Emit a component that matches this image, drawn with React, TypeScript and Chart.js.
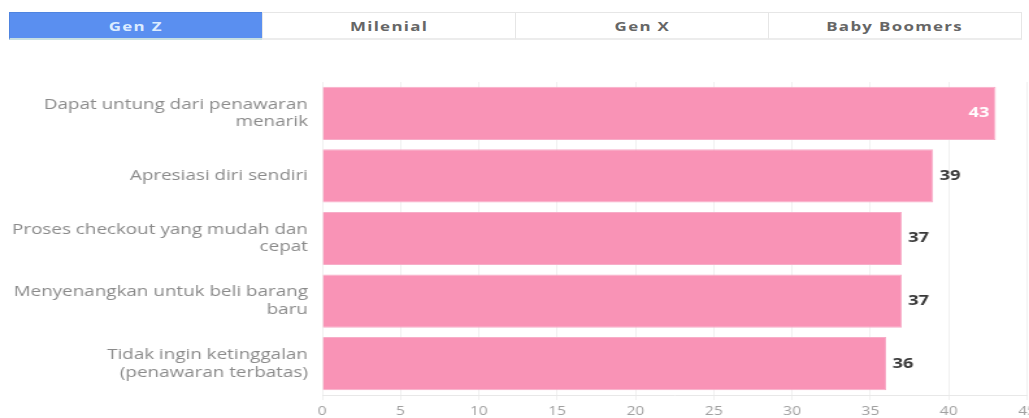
import React, { useEffect, useRef } from "react";
import { Chart, registerables } from "chart.js";

Chart.register(...registerables);

const tabs: string[] = ["Gen Z", "Milenial", "Gen X", "Baby Boomers"];
const activeTab = 0;

const categories: string[][] = [
  ["Dapat untung dari penawaran", "menarik"],
  ["Apresiasi diri sendiri"],
  ["Proses checkout yang mudah dan", "cepat"],
  ["Menyenangkan untuk beli barang", "baru"],
  ["Tidak ingin ketinggalan", "(penawaran terbatas)"],
];
const values: number[] = [43, 39, 37, 37, 36];

const xMin = 0;
const xMax = 45;
const xStep = 5;

const NAT_W = 792;
const NAT_H = 370;
const STRETCH = 1029 / NAT_W;

const valueLabels = {
  id: "valueLabels",
  afterDatasetsDraw(chart: any) {
    const ctx = chart.ctx;
    const meta = chart.getDatasetMeta(0);
    const maxV = Math.max(...values);
    meta.data.forEach((bar: any, i: number) => {
      const v = values[i];
      const text = String(v);
      ctx.save();
      ctx.font = 'bold 14px "Open Sans"';
      ctx.textBaseline = "middle";
      if (v === maxV) {
        ctx.textAlign = "right";
        ctx.fillStyle = "#ffffff";
        ctx.fillText(text, bar.x - 5, bar.y);
      } else {
        ctx.textAlign = "left";
        ctx.fillStyle = "#383838";
        ctx.fillText(text, bar.x + 5, bar.y);
      }
      ctx.restore();
    });
  },
};

export default function App() {
  const canvasRef = useRef<HTMLCanvasElement | null>(null);

  useEffect(() => {
    if (!canvasRef.current) return;
    const chart = new Chart(canvasRef.current, {
      type: "bar",
      data: {
        labels: categories,
        datasets: [
          {
            data: values,
            backgroundColor: "#f993b6",
            borderColor: "#f7adc8",
            borderWidth: 1,
            barPercentage: 0.85,
            categoryPercentage: 1,
          },
        ],
      },
      options: {
        indexAxis: "y",
        responsive: false,
        animation: false,
        layout: { padding: { top: 34, bottom: 0, left: 0, right: 1.5 } },
        plugins: {
          legend: { display: false },
          tooltip: { enabled: false },
        },
        scales: {
          x: {
            min: xMin,
            max: xMax,
            ticks: {
              stepSize: xStep,
              color: "#a0a0a0",
              font: { family: "Open Sans", size: 12 },
              padding: 4,
            },
            grid: { color: "#f0f0f0", tickLength: 5 },
            border: { display: true, color: "#e8e8e8" },
            afterFit: (s: any) => {
              s.paddingLeft = 0;
              s.paddingRight = 0;
              s.height = 23;
            },
          },
          y: {
            ticks: {
              color: "#8a8a8a",
              font: { family: "Open Sans", size: 14.5, lineHeight: 1.22 },
              padding: 11,
            },
            grid: { display: false, drawTicks: false },
            border: { display: false },
            afterFit: (s: any) => {
              s.width = 248;
              s.paddingTop = 0;
              s.paddingBottom = 0;
            },
          },
        },
      },
      plugins: [valueLabels],
    } as any);
    return () => chart.destroy();
  }, []);

  return (
    <div>
      <div
        style={{
          position: "absolute",
          left: 9,
          top: 12,
          width: 1013,
          height: 28,
          display: "flex",
          fontFamily: '"Open Sans", sans-serif',
        }}
      >
        {tabs.map((t, i) => (
          <div
            key={t}
            style={{
              flex: 1,
              boxSizing: "border-box",
              height: 28,
              display: "flex",
              alignItems: "center",
              justifyContent: "center",
              background: i === activeTab ? "#5a8ff0" : "#fff",
              border: i === activeTab ? "1px solid #4f84e0" : "1px solid #e6e6e6",
              borderBottom: i === activeTab ? "2px solid #c7dfe3" : "2px solid #ececec",
              marginLeft: i === 0 ? 0 : -1,
            }}
          >
            <span
              style={{
                display: "inline-block",
                fontSize: 13,
                fontWeight: 700,
                letterSpacing: 1,
                color: i === activeTab ? "#dcecff" : "#666",
                transform: "scaleX(1.3)",
              }}
            >
              {t}
            </span>
          </div>
        ))}
      </div>
      <div
        style={{
          position: "absolute",
          left: 0,
          top: 48,
          width: NAT_W,
          height: NAT_H,
          transform: `scaleX(${STRETCH})`,
          transformOrigin: "0 0",
        }}
      >
        <canvas
          ref={canvasRef}
          width={NAT_W}
          height={NAT_H}
          style={{ width: NAT_W, height: NAT_H, display: "block" }}
        />
      </div>
    </div>
  );
}
